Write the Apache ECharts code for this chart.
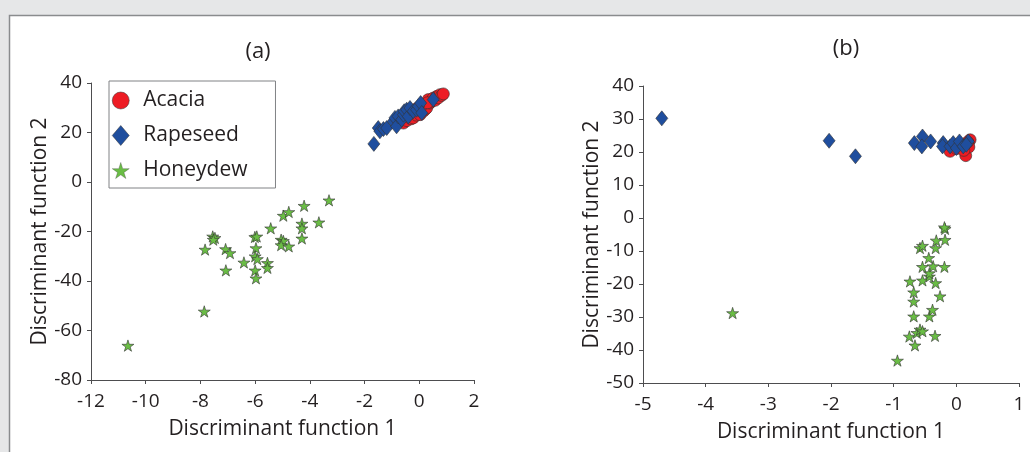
<!DOCTYPE html>
<html>
<head>
<meta charset="utf-8">
<script src="https://cdn.jsdelivr.net/npm/echarts@6/dist/echarts.min.js"></script>
<style>
    html, body { margin: 0; padding: 0; background: #e6e7e8; }
    #chart { width: 1030px; height: 452px; }
</style>
</head>
<body>
<div id="chart"></div>
<script>
// panel (a): [discriminant function 1, discriminant function 2]
let acaciaA = [
    [-0.58, 23.8], [-0.45, 24.8], [-0.3, 25.5], [-0.22, 25.9], [-0.1, 27.0], [0.03, 27.2],
    [0.15, 28.6], [0.22, 29.4], [0.27, 29.9], [0.33, 33.3], [0.39, 31.9], [0.45, 32.6],
    [0.51, 33.9], [0.58, 33.0], [0.64, 34.6], [0.7, 34.0], [0.76, 35.3], [0.82, 35.0],
    [0.88, 35.6], [-0.05, 30.0], [0.1, 31.0], [0.3, 32.0]
];
let rapeseedA = [
    [-1.66, 15.4], [-1.5, 21.8], [-1.44, 20.5], [-1.31, 21.4], [-1.19, 21.8], [-0.95, 24.5],
    [-0.89, 25.9], [-0.83, 22.5], [-0.77, 26.5], [-0.64, 25.2], [-0.58, 27.2], [-0.55, 28.6],
    [-0.46, 29.2], [-0.4, 26.5], [-0.34, 29.9], [-0.22, 28.6], [-0.1, 29.2], [-0.03, 30.6],
    [0.05, 31.9], [0.09, 27.9], [0.51, 33.3]
];
let honeydewA = [
    [-10.65, -66.1], [-7.86, -52.3], [-7.83, -27.3], [-7.55, -22.0], [-7.47, -22.6], [-7.53, -23.3],
    [-7.08, -27.1], [-6.92, -28.7], [-7.07, -35.7], [-6.41, -32.5], [-6.01, -22.2], [-5.94, -22.0],
    [-5.97, -26.7], [-6.0, -30.0], [-5.92, -31.1], [-6.0, -35.7], [-5.97, -38.9], [-5.55, -32.7],
    [-5.55, -34.7], [-5.43, -18.7], [-5.05, -23.3], [-4.97, -23.8], [-5.05, -25.5], [-4.77, -26.0],
    [-4.97, -13.6], [-4.77, -12.1], [-4.29, -16.8], [-4.29, -18.7], [-4.29, -22.8], [-4.21, -9.6],
    [-3.67, -16.3], [-3.3, -7.4]
];
// panel (b)
let acaciaB = [
    [0.15, 18.9], [0.22, 23.7], [0.19, 22.7], [-0.1, 20.2], [0.2, 21.5], [0.1, 22.0],
    [0.0, 21.0], [0.12, 20.5], [0.18, 23.0]
];
let rapeseedB = [
    [-4.7, 30.2], [-2.03, 23.4], [-1.61, 18.7], [-0.67, 22.7], [-0.54, 24.7], [-0.55, 21.7],
    [-0.41, 23.2], [-0.21, 22.7], [-0.22, 21.7], [-0.1, 21.7], [-0.05, 22.7], [0.0, 21.2],
    [0.05, 23.2], [0.11, 21.7], [0.19, 23.2], [0.16, 22.2]
];
let honeydewB = [
    [-3.57, -28.8], [-0.94, -43.2], [-0.75, -35.9], [-0.66, -38.6], [-0.63, -34.8], [-0.58, -33.8],
    [-0.54, -34.3], [-0.34, -35.7], [-0.68, -29.8], [-0.43, -29.8], [-0.38, -27.8], [-0.26, -23.7],
    [-0.68, -25.3], [-0.68, -22.5], [-0.74, -19.2], [-0.54, -18.9], [-0.43, -17.7], [-0.43, -16.7],
    [-0.33, -19.7], [-0.54, -14.8], [-0.37, -14.6], [-0.19, -14.8], [-0.44, -12.1], [-0.58, -9.1],
    [-0.54, -8.4], [-0.33, -9.1], [-0.32, -6.8], [-0.18, -6.6], [-0.18, -3.3], [-0.19, -2.8]
];
let panelTitles = ['(a)', '(b)'];
let xAxisName = 'Discriminant function 1';
let yAxisName = 'Discriminant function 2';

const FONT = '"Open Sans", sans-serif';
const INK = '#231f20';
const STAR = 'path://M50,0 L61,35 L98,35 L68,57 L79,91 L50,70 L21,91 L32,57 L2,35 L39,35 Z';

function axisBase(min, max, interval, grid) {
    return {
        type: 'value', gridIndex: grid, min: min, max: max, interval: interval,
        nameLocation: 'middle',
        nameTextStyle: { fontFamily: FONT, fontSize: 21, color: INK },
        axisLine: { show: true, onZero: false, lineStyle: { color: '#4d4d4f', width: 1 } },
        axisTick: { show: true, inside: false, length: 4, lineStyle: { color: '#4d4d4f' } },
        axisLabel: { fontFamily: FONT, fontSize: 19, color: INK },
        splitLine: { show: false }
    };
}

function scatter(name, data, idx) {
    let s = { name: name, type: 'scatter', data: data, xAxisIndex: idx, yAxisIndex: idx,
        itemStyle: { borderColor: '#333333', borderWidth: 0.6, opacity: 1 } };
    if (name === 'Acacia') {
        s.symbol = 'circle'; s.symbolSize = 12; s.symbolKeepAspect = true;
        s.itemStyle.color = '#ed1c24';
    } else if (name === 'Rapeseed') {
        s.symbol = 'diamond'; s.symbolSize = [12, 15];
        s.itemStyle.color = '#1f4e9e';
    } else {
        s.symbol = STAR; s.symbolSize = 12; s.symbolKeepAspect = true;
        s.itemStyle.color = '#6abd45';
    }
    return s;
}

let chart = echarts.init(document.getElementById('chart'));
// ----------------------------------------------------
let xa = axisBase(-12, 2, 2, 0), ya = axisBase(-80, 40, 20, 0);
let xb = axisBase(-5, 1, 1, 1), yb = axisBase(-50, 40, 10, 1);
xa.name = xb.name = xAxisName;
ya.name = yb.name = yAxisName;
xa.nameGap = 39; xb.nameGap = 39;
ya.nameGap = 40; yb.nameGap = 40;
xa.axisLabel.margin = xb.axisLabel.margin = 12;
ya.axisLabel.margin = yb.axisLabel.margin = 9;

let option = {
    backgroundColor: '#e6e7e8',
    animation: false,
    graphic: [{
        type: 'rect', z: -10, silent: true,
        shape: { x: 9.5, y: 15.5, width: 1100, height: 500 },
        style: { fill: '#ffffff', stroke: '#8a8c8e', lineWidth: 1.5 }
    }],
    title: [
        { text: panelTitles[0], left: 253, top: 36, textAlign: 'center',
          textStyle: { fontFamily: FONT, fontSize: 22, fontWeight: 'normal', color: INK } },
        { text: panelTitles[1], left: 841, top: 33, textAlign: 'center',
          textStyle: { fontFamily: FONT, fontSize: 22, fontWeight: 'normal', color: INK } }
    ],
    legend: {
        orient: 'vertical', left: 109, top: 81,
        data: [
            { name: 'Acacia', itemStyle: { borderWidth: 0.5 } },
            { name: 'Rapeseed', itemStyle: { borderWidth: 0.5 } },
            { name: 'Honeydew', itemStyle: { borderWidth: 0.3 } }
        ],
        itemWidth: 17, itemHeight: 20, itemGap: 14,
        padding: [9, 28, 7, 3],
        borderColor: '#808285', borderWidth: 1, borderRadius: 0,
        backgroundColor: '#ffffff',
        textStyle: { fontFamily: FONT, fontSize: 21, color: INK, padding: [0, 0, 0, 9] }
    },
    grid: [
        { left: 91, top: 83, width: 383, height: 297 },
        { left: 643, top: 86, width: 376, height: 297 }
    ],
    xAxis: [xa, xb],
    yAxis: [ya, yb],
    series: [
        scatter('Acacia', acaciaA, 0),
        scatter('Rapeseed', rapeseedA, 0),
        scatter('Honeydew', honeydewA, 0),
        scatter('Acacia', acaciaB, 1),
        scatter('Rapeseed', rapeseedB, 1),
        scatter('Honeydew', honeydewB, 1)
    ]
};

chart.setOption(option);
</script>
</body>
</html>
